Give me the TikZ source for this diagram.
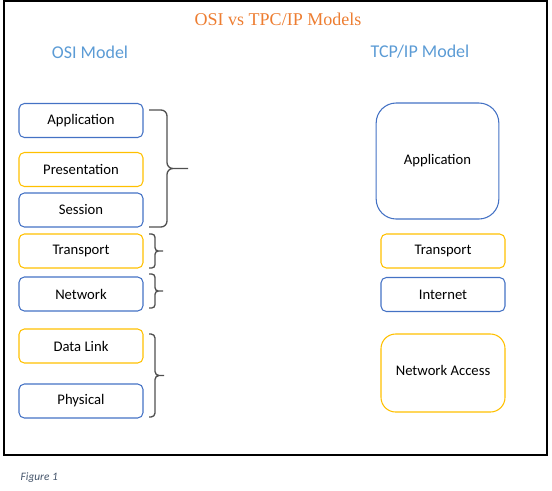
\documentclass[tikz,border=0pt]{standalone}
\usepackage{fontspec}
\setmainfont{Carlito}
\newfontfamily\titlefont{Liberation Serif}
\usepackage{xcolor}
\usepackage{tikz}
\usetikzlibrary{positioning}
\definecolor{capaazul}{RGB}{68,114,196}
\definecolor{capaamarilla}{RGB}{255,192,0}
\definecolor{titulonaranja}{RGB}{237,125,49}
\definecolor{modeloazul}{RGB}{91,155,213}
\definecolor{figgris}{RGB}{68,84,106}
\definecolor{llavegris}{RGB}{80,80,80}

\begin{document}
\begin{tikzpicture}[x=0.75pt, y=-0.75pt, font=\fontsize{11}{13}\selectfont,
    capa/.style={draw, line width=0.8pt, rounded corners=4pt, minimum width=93pt, minimum height=25.5pt, align=center},
    azul/.style={capa, draw=capaazul},
    amarilla/.style={capa, draw=capaamarilla},
    llave/.style={draw=llavegris, line width=1pt}]
  \useasboundingbox (0,0) rectangle (552,490);
  \draw[line width=1.5pt] (4,1) rectangle (547,455);
  % titulos
  \node[text=titulonaranja, font=\titlefont\fontsize{13.5}{16}\selectfont] (titulo) at (278,19) {OSI vs TPC/IP Models};
  \node[text=modeloazul, font=\fontsize{13.5}{16}\selectfont] (osi) at (90,52) {OSI Model};
  \node[text=modeloazul, font=\fontsize{13.5}{16}\selectfont] (tcp) at (420,52) {TCP/IP Model};
  % capas OSI
  \node[azul] (osiapp) at (81,120.5) {Application};
  \node[amarilla] (osipres) at (81,169.5) {Presentation};
  \node[azul] (osises) at (81,210) {Session};
  \node[amarilla] (ositrans) at (81,251) {Transport};
  \node[azul] (osinet) at (81,294) {Network};
  \node[amarilla] (osidata) at (81,346) {Data Link};
  \node[azul] (osiphys) at (81,401) {Physical};
  % llaves
  \foreach \yt/\yb/\xa/\xt/\r in {110/227/167/188/4.5pt, 234/268/155/163/2.5pt, 274/308/155/163/2.5pt, 334/417/155/164/3pt} {
    \draw[llave, rounded corners=\r] (149,\yt) -- (\xa,\yt) -- (\xa,{(\yt+\yb)/2}) -- (\xt,{(\yt+\yb)/2})
      (149,\yb) -- (\xa,\yb) -- (\xa,{(\yt+\yb)/2}) -- (\xt,{(\yt+\yb)/2});
  }
  % capas TCP/IP
  \node[azul, rounded corners=15pt, minimum height=87pt, minimum width=92pt] (tcpapp) at (437.5,161) {\raisebox{3pt}{Application}};
  \node[amarilla] (tcptrans) at (443,251) {Transport};
  \node[azul] (tcpnet) at (443,294.5) {Internet};
  \node[amarilla, rounded corners=11pt, minimum height=58.5pt] (tcpacc) at (443,373) {\raisebox{3.5pt}{Network Access}};
  \node[text=figgris, font=\itshape\fontsize{8.5}{10}\selectfont, anchor=west] (figura) at (16,478) {Figure 1};
\end{tikzpicture}
\end{document}
